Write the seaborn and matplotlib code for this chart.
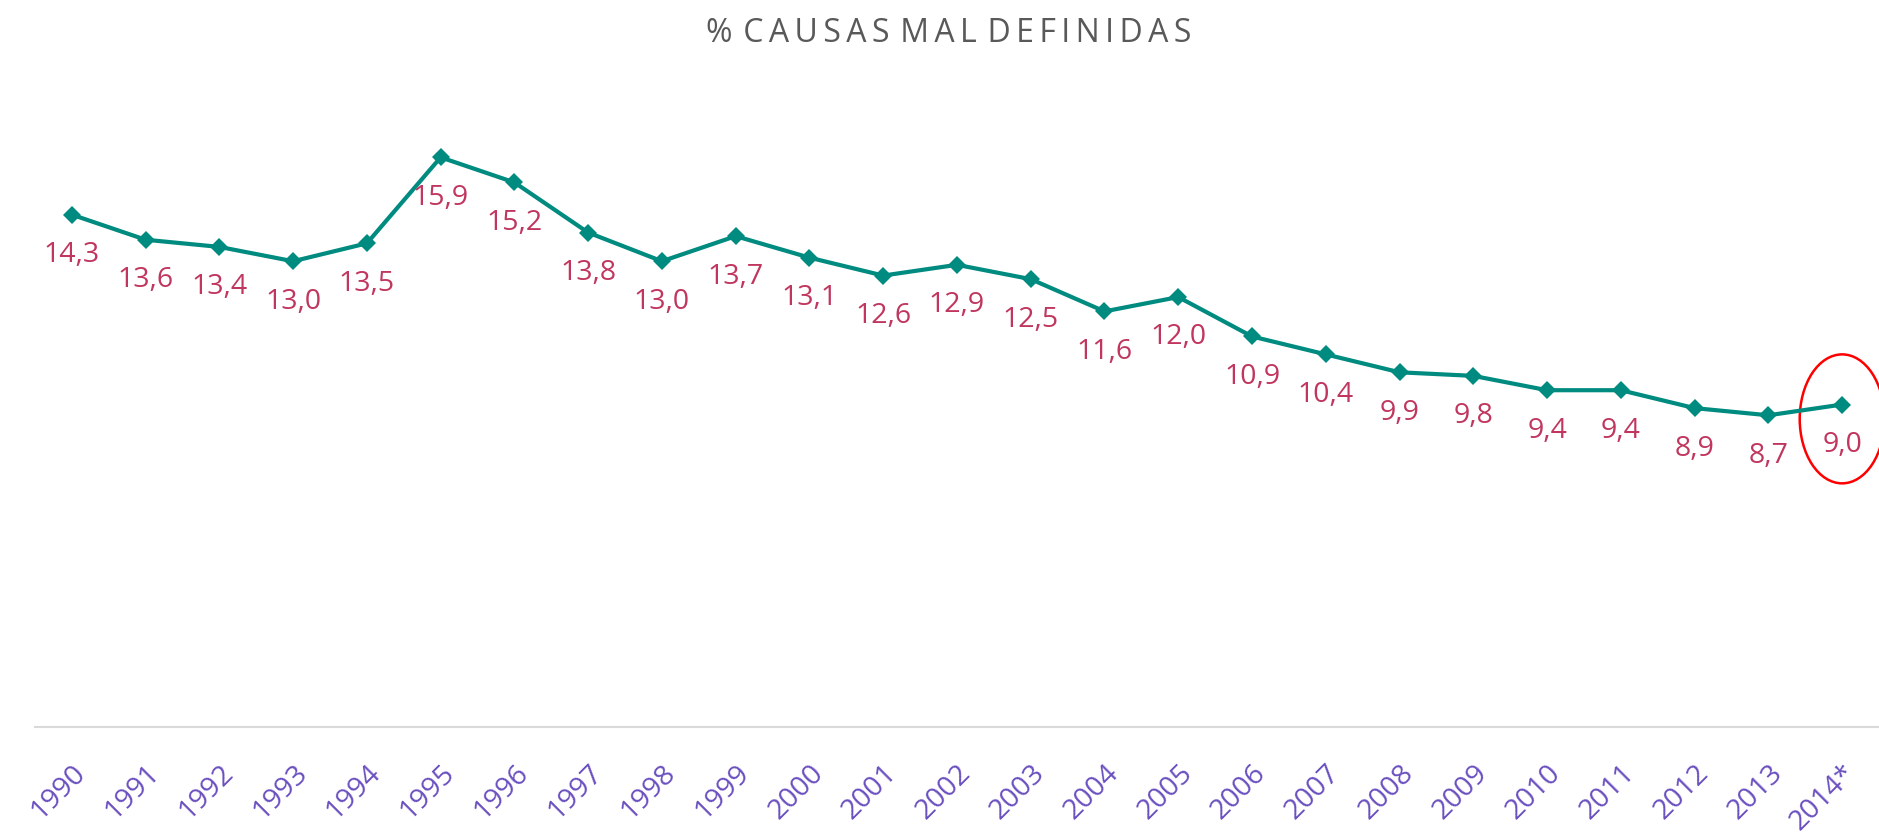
import matplotlib
matplotlib.use("Agg")
import matplotlib.pyplot as plt
import matplotlib.transforms as mtransforms
from matplotlib.patches import Ellipse
import seaborn as sns
import pandas as pd

# datos del gráfico
anios = ["1990", "1991", "1992", "1993", "1994", "1995", "1996", "1997", "1998", "1999",
         "2000", "2001", "2002", "2003", "2004", "2005", "2006", "2007", "2008", "2009",
         "2010", "2011", "2012", "2013", "2014*"]
porcentaje = [14.3, 13.6, 13.4, 13.0, 13.5, 15.9, 15.2, 13.8, 13.0, 13.7,
              13.1, 12.6, 12.9, 12.5, 11.6, 12.0, 10.9, 10.4, 9.9, 9.8,
              9.4, 9.4, 8.9, 8.7, 9.0]

df = pd.DataFrame({"anio": anios, "pct": porcentaje})
df["pos"] = range(len(df))

sns.set_theme(style="white")
plt.rcParams["font.family"] = ["Open Sans", "DejaVu Sans"]

fig = plt.figure(figsize=(18.79, 8.38), dpi=100)
ax = fig.add_axes([0.0186, 0.1325, 0.9814, 0.7755])

sns.lineplot(data=df, x="pos", y="pct", ax=ax, color="#008B80", linewidth=3,
             marker="D", markersize=9, markeredgewidth=0)

# etiquetas de valores debajo de cada punto
for x, v in zip(df["pos"], df["pct"]):
    ax.annotate(f"{v:.1f}".replace(".", ","), (x, v), xytext=(0, -19),
                textcoords="offset points", ha="center", va="top",
                fontsize=20.5, color="#C0365E")

# círculo rojo sobre el último año
ax.add_patch(Ellipse((24, 8.6), width=1.15, height=3.6, fill=False,
                     edgecolor="red", linewidth=1.8, clip_on=False))

ax.set_xlim(-0.5, len(anios) - 0.5)
ax.set_ylim(0, 18.14)
ax.set_xticks(df["pos"])
ax.set_xticklabels(anios, rotation=45, ha="right", rotation_mode="anchor",
                   fontsize=20.5, color="#6A4FC0")
desplaz = mtransforms.ScaledTranslation(-0.12, 0, fig.dpi_scale_trans)
for lbl in ax.get_xticklabels():
    lbl.set_transform(lbl.get_transform() + desplaz)
ax.set_yticks([])
ax.set_xlabel("")
ax.set_ylabel("")
ax.tick_params(axis="x", length=0, pad=23)
for s in ["top", "right", "left"]:
    ax.spines[s].set_visible(False)
ax.spines["bottom"].set_color("#D9D9D9")
ax.spines["bottom"].set_linewidth(1.5)

fig.text(0.505, 0.96, "%  C A U S A S  M A L  D E F I N I D A S".replace(" ", "\u2009"),
         ha="center", va="center", fontsize=23, color="#595959")

fig.savefig("out.png", dpi=100)
